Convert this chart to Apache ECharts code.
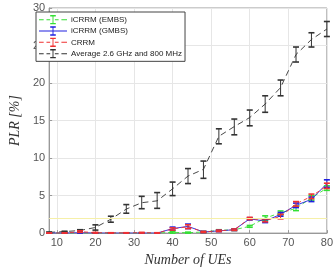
<!DOCTYPE html>
<html>
<head>
<meta charset="utf-8">
<script src="https://cdn.jsdelivr.net/npm/echarts@6/dist/echarts.min.js"></script>
<style>
  html, body { margin: 0; padding: 0; background: #fff; }
  #chart { width: 336px; height: 272px; }
</style>
</head>
<body>
<div id="chart"></div>
<script>
// number of UEs
const ues = [8, 12, 16, 20, 24, 28, 32, 36, 40, 44, 48, 52, 56, 60, 64, 68, 72, 76, 80]
const xTicks = [10, 20, 30, 40, 50, 60, 70, 80]

// PLR [%] means and error half widths
const embsMean = [0, 0, 0, 0, 0, 0, 0, 0, 0.1, 0.05, 0.15, 0.35, 0.45, 0.9, 2.0, 2.7, 3.3, 4.7, 6.0]
const embsErr  = [0.03, 0.03, 0.03, 0.03, 0.03, 0.03, 0.03, 0.03, 0.1, 0.08, 0.08, 0.1, 0.1, 0.12, 0.3, 0.25, 0.3, 0.3, 0.3]
const gmbsMean = [0, 0, 0.05, 0, 0, 0, 0, 0, 0.6, 0.9, 0.15, 0.3, 0.45, 1.9, 1.6, 2.5, 3.7, 4.5, 6.6]
const gmbsErr  = [0.03, 0.03, 0.05, 0.03, 0.03, 0.03, 0.03, 0.03, 0.2, 0.3, 0.08, 0.1, 0.1, 0.15, 0.2, 0.25, 0.3, 0.3, 0.5]
const crrmMean = [0, 0, 0.2, 0.05, 0.02, 0.02, 0.05, 0.02, 0.55, 0.85, 0.15, 0.3, 0.45, 1.95, 1.7, 2.2, 3.9, 4.9, 6.3]
const crrmErr  = [0.03, 0.03, 0.1, 0.05, 0.03, 0.03, 0.05, 0.03, 0.15, 0.25, 0.08, 0.1, 0.1, 0.15, 0.2, 0.3, 0.3, 0.3, 0.35]
const avgMean  = [0.1, 0.2, 0.35, 0.75, 1.85, 3.2, 4.05, 4.3, 5.9, 7.6, 8.5, 12.9, 14.2, 15.4, 17.2, 19.4, 23.8, 25.8, 27.2]
const avgLow   = [0.05, 0.15, 0.25, 0.4, 1.45, 2.65, 3.25, 3.3, 5.0, 6.6, 7.3, 11.9, 13.1, 14.3, 16.1, 18.3, 22.8, 24.8, 26.2]
const avgHigh  = [0.15, 0.25, 0.45, 1.1, 2.25, 3.8, 4.9, 5.4, 6.8, 8.6, 9.6, 13.9, 15.2, 16.4, 18.3, 20.4, 24.8, 26.7, 28.2]
const refLine = 2

const names = ['iCRRM (EMBS)', 'iCRRM (GMBS)', 'CRRM', 'Average 2.6 GHz and 800 MHz']
const colors = ['#33e033', '#2020e0', '#f03030', '#333333']

// legend glyph: line (dashed or solid) with an error bar in the middle
const dashedIcon = 'path://M0,4.5h5v1h-5z M8,4.5h4v1h-4z M17,4.5h4v1h-4z M24,4.5h6v1h-6z M14.5,1h1v8h-1z M12,0h6v1.5h-6z M12,8.5h6v1.5h-6z'
const solidIcon = 'path://M0,4.5h30v1h-30z M14.5,1h1v8h-1z M12,0h6v1.5h-6z M12,8.5h6v1.5h-6z'

function zip (x, a) {
  return x.map((v, i) => [v, a[i]])
}
function barData (x, lo, hi) {
  return x.map((v, i) => [v, lo[i], hi[i]])
}

// vertical error bar with caps, drawn from axis coordinates
function errRender (color) {
  return function (params, api) {
    const p1 = api.coord([api.value(0), api.value(1)])
    const p2 = api.coord([api.value(0), api.value(2)])
    const w = 3
    const st = { stroke: color, lineWidth: 1 }
    const cap = { stroke: color, lineWidth: 1.6 }
    return {
      type: 'group',
      children: [
        { type: 'line', shape: { x1: p1[0], y1: p1[1], x2: p2[0], y2: p2[1] }, style: st },
        { type: 'line', shape: { x1: p1[0] - w, y1: p1[1], x2: p1[0] + w, y2: p1[1] }, style: cap },
        { type: 'line', shape: { x1: p2[0] - w, y1: p2[1], x2: p2[0] + w, y2: p2[1] }, style: cap }
      ]
    }
  }
}

const means = [embsMean, gmbsMean, crrmMean, avgMean]
const lows = [
  embsMean.map((v, i) => Math.max(0, v - embsErr[i])),
  gmbsMean.map((v, i) => Math.max(0, v - gmbsErr[i])),
  crrmMean.map((v, i) => Math.max(0, v - crrmErr[i])),
  avgLow
]
const highs = [
  embsMean.map((v, i) => v + embsErr[i]),
  gmbsMean.map((v, i) => v + gmbsErr[i]),
  crrmMean.map((v, i) => v + crrmErr[i]),
  avgHigh
]
const dashes = [[4, 3], 'solid', [4, 3], [6, 4]]

let seriesList = []
// draw black first so the coloured series sit above it
const order = [3, 0, 1, 2]
order.forEach((k) => {
  seriesList.push({
    name: names[k],
    type: 'line',
    data: zip(ues, means[k]),
    showSymbol: false,
    symbol: 'none',
    color: colors[k],
    lineStyle: { width: 0.9, type: dashes[k], color: colors[k] },
    silent: true,
    z: 3,
    markLine: k === 0 ? {
      silent: true,
      symbol: ['none', 'none'],
      label: { show: false },
      lineStyle: { color: '#f6f0a8', width: 1.2, type: 'solid' },
      data: [{ yAxis: refLine }]
    } : undefined
  })
  seriesList.push({
    name: names[k],
    type: 'custom',
    data: barData(ues, lows[k], highs[k]),
    renderItem: errRender(colors[k]),
    encode: { x: 0, y: [1, 2] },
    silent: true,
    z: 4
  })
})

let option = {
  animation: false,
  backgroundColor: '#fff',
  grid: {
    left: 32,
    right: 7,
    top: 8,
    bottom: 30,
    show: true,
    borderColor: '#999',
    borderWidth: 1
  },
  legend: {
    data: names.map((n, i) => ({ name: n, icon: i === 1 ? solidIcon : dashedIcon })),
    orient: 'vertical',
    left: 36,
    top: 12,
    itemWidth: 28,
    itemHeight: 10,
    itemGap: 2,
    padding: [3, 3, 3, 3],
    backgroundColor: '#fff',
    borderColor: '#444',
    borderWidth: 1,
    selectedMode: false,
    textStyle: { fontSize: 8, color: '#222', fontFamily: 'Liberation Sans', padding: [0, 0, 0, -1] }
  },
  xAxis: {
    type: 'value',
    min: 8,
    max: 80,
    name: 'Number of UEs',
    nameLocation: 'middle',
    nameGap: 16,
    nameTextStyle: { fontFamily: 'Liberation Serif', fontStyle: 'italic', fontSize: 14, color: '#333' },
    axisLine: { show: true, lineStyle: { color: '#999' } },
    axisTick: { show: true, inside: true, length: 3, customValues: xTicks, lineStyle: { color: '#999' } },
    axisLabel: { customValues: xTicks, fontSize: 11, color: '#555', fontFamily: 'Liberation Sans', margin: 4 },
    splitLine: { show: true, customValues: xTicks, lineStyle: { color: '#e6e6e6' } }
  },
  yAxis: {
    type: 'value',
    min: 0,
    max: 30,
    interval: 5,
    name: 'PLR [%]',
    nameLocation: 'middle',
    nameGap: 18,
    nameTextStyle: { fontFamily: 'Liberation Serif', fontStyle: 'italic', fontSize: 14, color: '#333' },
    axisLine: { show: true, lineStyle: { color: '#999' } },
    axisTick: { show: true, inside: true, length: 3, lineStyle: { color: '#999' } },
    axisLabel: { fontSize: 11, color: '#555', fontFamily: 'Liberation Sans', margin: 4 },
    splitLine: { show: true, lineStyle: { color: '#e6e6e6' } }
  },
  series: seriesList
}

let chart = echarts.init(document.getElementById('chart'))
chart.setOption(option)
</script>
</body>
</html>
